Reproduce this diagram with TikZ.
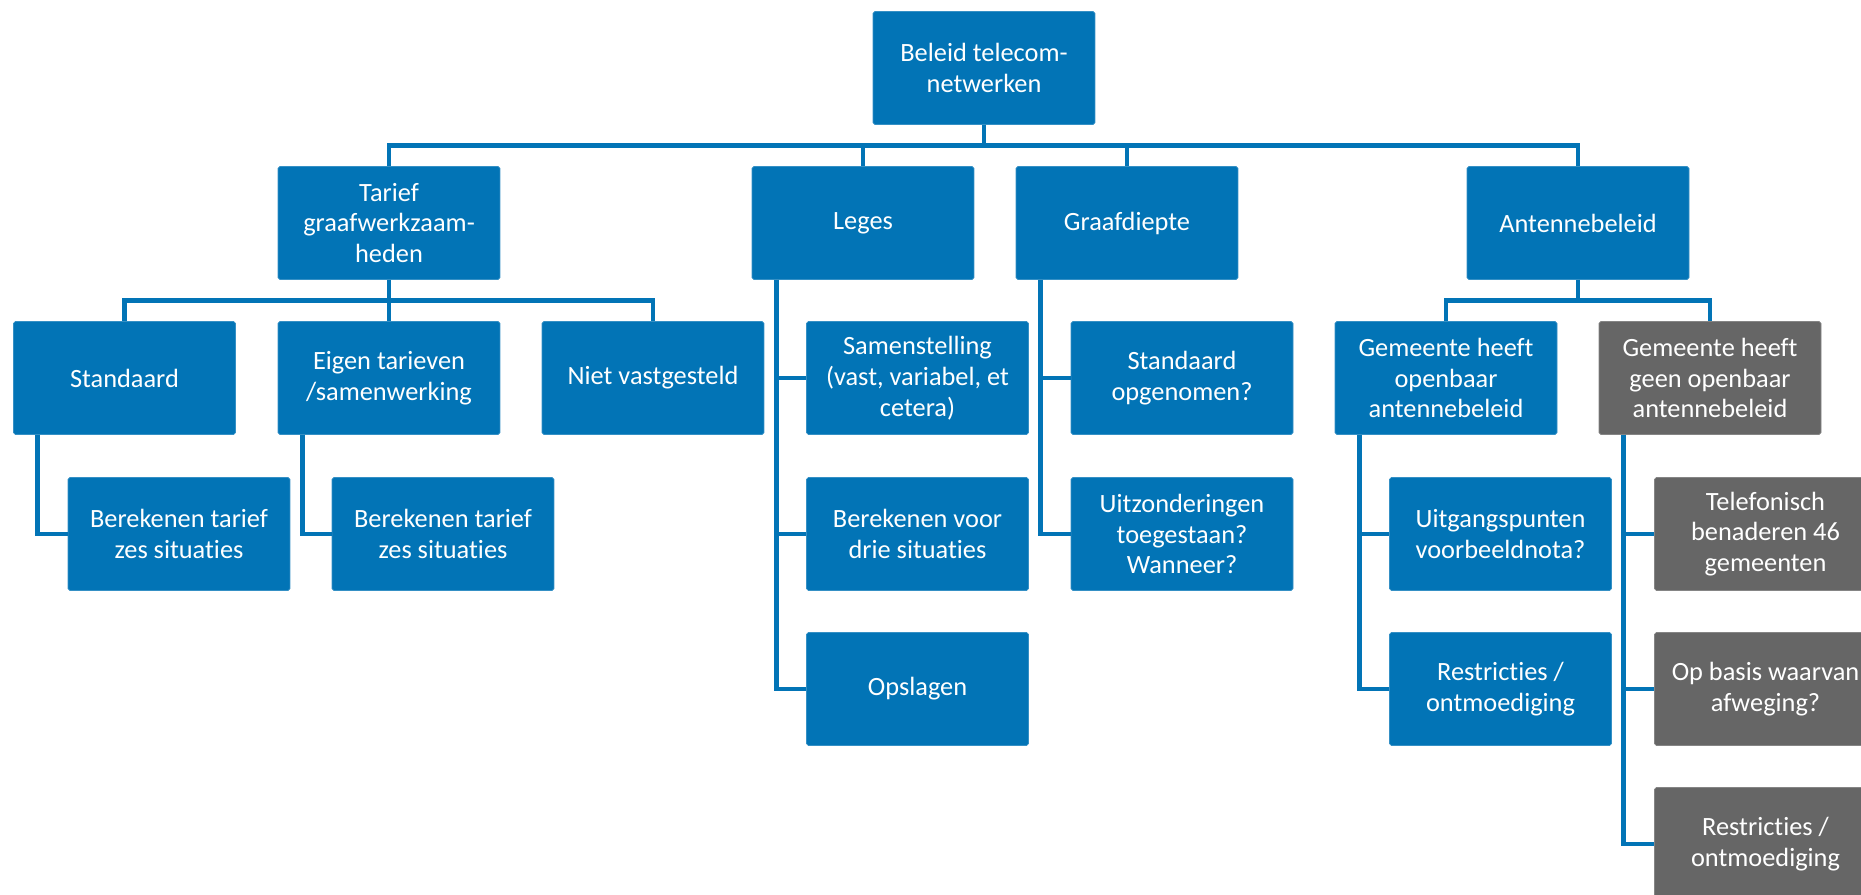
\documentclass[tikz,border=0pt]{standalone}
\usepackage{fontspec}
\setmainfont[RawFeature={-liga,-clig,-dlig,-calt,-rlig}]{Carlito}
\definecolor{orgblue}{HTML}{0274B6}
\definecolor{orggrey}{HTML}{666666}

\begin{document}
\begin{tikzpicture}[x=.02cm,y=-.02cm,
    box/.style={fill=orgblue,draw=orgblue!80!white,line width=.4pt,rounded corners=1pt,
        text=white,align=center,inner sep=2pt,
        minimum width=4.44cm,minimum height=2.26cm,
        font=\fontsize{15}{17.5}\selectfont},
    greybox/.style={box,fill=orggrey,draw=orggrey!80!white},
    link/.style={draw=orgblue,line width=2.7pt}]
\useasboundingbox (0,0) rectangle (1861,895);
\clip (0,0) rectangle (1861,895);

\node[box] at (984,68)(root){Beleid telecom-\\netwerken};

\node[box] at (389,223)(tarief){Tarief\\graafwerkzaam-\\heden};
\node[box] at (863,223)(leges){Leges};
\node[box] at (1127,223)(graaf){Graafdiepte};
\node[box] at (1578,223)(antenne){Antennebeleid};

\node[box] at (124.5,378)(standaard){Standaard};
\node[box] at (389,378)(eigen){Eigen tarieven\\/samenwerking};
\node[box] at (653,378)(niet){Niet vastgesteld};
\node[box] at (1446,378)(openbaar){Gemeente heeft\\openbaar\\antennebeleid};
\node[greybox] at (1710,378)(geen){Gemeente heeft\\geen openbaar\\antennebeleid};

\node[box] at (179,534)(bta){Berekenen tarief\\zes situaties};
\node[box] at (443,534)(btb){Berekenen tarief\\zes situaties};

\foreach \n/\y/\t in {samen/378/{Samenstelling\\(vast, variabel, et\\cetera)},
    bereken/534/{Berekenen voor\\drie situaties}, opslag/689/{Opslagen}}{
    \node[box] at (917.5,\y)(\n){\t};
}
\foreach \n/\y/\t in {stdop/378/{Standaard\\opgenomen?},
    uitz/534/{Uitzonderingen\\toegestaan?\\Wanneer?}}{
    \node[box] at (1182,\y)(\n){\t};
}
\foreach \n/\y/\t in {uitgang/534/{Uitgangspunten\\voorbeeldnota?},
    restra/689/{Restricties /\\ontmoediging}}{
    \node[box] at (1500.5,\y)(\n){\t};
}
\foreach \n/\y/\t in {telef/534/{Telefonisch\\benaderen 46\\gemeenten},
    opbasis/689/{Op basis waarvan\\afweging?}, restrb/844/{Restricties /\\ontmoediging}}{
    \node[greybox] at (1765.5,\y)(\n){\t};
}

% bussen
\foreach \c in {tarief,leges,graaf,antenne}{
    \draw[link] (root.south) -- ++(0,20.5) -| (\c.north);
}
\foreach \c in {standaard,eigen,niet}{
    \draw[link] (tarief.south) -- ++(0,20.5) -| (\c.north);
}
\foreach \c in {openbaar,geen}{
    \draw[link] (antenne.south) -- ++(0,20.5) -| (\c.north);
}

% zijtakken
\foreach \p/\c in {standaard/bta,eigen/btb,leges/samen,leges/bereken,leges/opslag,
    graaf/stdop,graaf/uitz,openbaar/uitgang,openbaar/restra,
    geen/telef,geen/opbasis,geen/restrb}{
    \draw[link] ([xshift=.49cm]\p.south west) |- (\c.west);
}
\end{tikzpicture}
\end{document}
